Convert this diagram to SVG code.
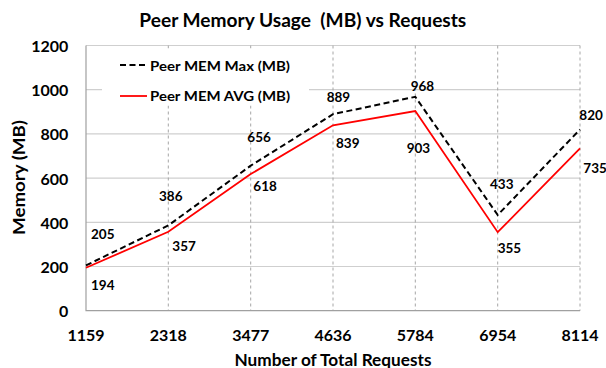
<svg xmlns="http://www.w3.org/2000/svg" width="606" height="368" viewBox="0 0 606 368">
  <style>
    text { font-family: Lato, "Liberation Sans", Arial, sans-serif; font-weight: bold; fill: #000; }
    .title { font-size: 18px; }
    .tick { font-size: 16px; }
    .axis-title { font-size: 17px; }
    .legend { font-size: 13px; }
    .val { font-size: 13.5px; }
    .hgrid { stroke: #cfcfcf; stroke-width: 1.2; }
    .vgrid { stroke: #a6a6a6; stroke-width: 1; stroke-dasharray: 3 3; }
    .axis { stroke: #a0a0a0; stroke-width: 1.2; fill: none; }
    .max { stroke: #000; stroke-width: 2; stroke-dasharray: 6 3.5; fill: none; }
    .avg { stroke: #ff0000; stroke-width: 1.8; fill: none; }
  </style>
  <rect width="606" height="368" fill="#fff"/>

  <text class="title" x="302.8" y="26.5" text-anchor="middle" textLength="327" lengthAdjust="spacingAndGlyphs">Peer Memory Usage&#160; (MB) vs Requests</text>

  <!-- grid -->
  <g id="grid">
    <line class="hgrid" x1="86" y1="266.5" x2="580" y2="266.5"/>
    <line class="hgrid" x1="86" y1="222.3" x2="580" y2="222.3"/>
    <line class="hgrid" x1="86" y1="178.1" x2="580" y2="178.1"/>
    <line class="hgrid" x1="86" y1="133.9" x2="580" y2="133.9"/>
    <line class="hgrid" x1="86" y1="89.7" x2="580" y2="89.7"/>
    <line class="hgrid" x1="86" y1="45.5" x2="580" y2="45.5"/>
    <line class="vgrid" x1="168.3" y1="45.5" x2="168.3" y2="310.7"/>
    <line class="vgrid" x1="250.7" y1="45.5" x2="250.7" y2="310.7"/>
    <line class="vgrid" x1="333" y1="45.5" x2="333" y2="310.7"/>
    <line class="vgrid" x1="415.3" y1="45.5" x2="415.3" y2="310.7"/>
    <line class="vgrid" x1="497.7" y1="45.5" x2="497.7" y2="310.7"/>
    <line class="vgrid" x1="580" y1="45.5" x2="580" y2="310.7"/>
    <path class="axis" d="M86,45.5 V310.7 H580"/>
  </g>

  <!-- axis tick labels -->
  <g id="y-ticks" text-anchor="end">
    <text class="tick" x="68.3" y="317.2">0</text>
    <text class="tick" x="68.3" y="273">200</text>
    <text class="tick" x="68.3" y="228.8">400</text>
    <text class="tick" x="68.3" y="184.6">600</text>
    <text class="tick" x="68.3" y="140.4">800</text>
    <text class="tick" x="68.3" y="96.2">1000</text>
    <text class="tick" x="68.3" y="52">1200</text>
  </g>
  <g id="x-ticks" text-anchor="middle">
    <text class="tick" x="86" y="341">1159</text>
    <text class="tick" x="168.3" y="341">2318</text>
    <text class="tick" x="250.7" y="341">3477</text>
    <text class="tick" x="333" y="341">4636</text>
    <text class="tick" x="415.3" y="341">5784</text>
    <text class="tick" x="497.7" y="341">6954</text>
    <text class="tick" x="580" y="341">8114</text>
  </g>

  <text class="axis-title" x="333" y="365.5" text-anchor="middle" textLength="197" lengthAdjust="spacingAndGlyphs">Number of Total Requests</text>
  <text class="axis-title" transform="translate(24.5,177.5) rotate(-90)" text-anchor="middle" textLength="115" lengthAdjust="spacingAndGlyphs">Memory (MB)</text>

  <!-- data series -->
  <g id="series">
    <polyline id="series-max" class="max" points="86,265.4 168.3,225.4 250.7,165.7 333,114.2 415.3,96.8 497.7,215 580,129.5"/>
    <polyline id="series-avg" class="avg" points="86,267.8 168.3,231.8 250.7,174.1 333,125.3 415.3,111.1 497.7,232.2 580,148.3"/>
  </g>

  <!-- data labels -->
  <g id="labels-max">
    <text class="val" x="91" y="239">205</text>
    <text class="val" x="159" y="200.7">386</text>
    <text class="val" x="247.3" y="142">656</text>
    <text class="val" x="326.7" y="102">889</text>
    <text class="val" x="410.7" y="90.7">968</text>
    <text class="val" x="490" y="188.7">433</text>
    <text class="val" x="579.3" y="120">820</text>
  </g>
  <g id="labels-avg">
    <text class="val" x="91" y="290.4">194</text>
    <text class="val" x="172.3" y="250.7">357</text>
    <text class="val" x="253.3" y="191.4">618</text>
    <text class="val" x="336" y="148">839</text>
    <text class="val" x="406.7" y="153">903</text>
    <text class="val" x="497.7" y="253">355</text>
    <text class="val" x="583.3" y="173">735</text>
  </g>

  <!-- legend -->
  <g id="legend">
    <rect x="102" y="48.5" width="207" height="57" fill="#fff"/>
    <line class="max" x1="120" y1="65" x2="147" y2="65"/>
    <text class="legend" x="150" y="70.7" textLength="140" lengthAdjust="spacingAndGlyphs">Peer MEM Max (MB)</text>
    <line class="avg" x1="120" y1="96" x2="147" y2="96"/>
    <text class="legend" x="150" y="100.7" textLength="140" lengthAdjust="spacingAndGlyphs">Peer MEM AVG (MB)</text>
  </g>
</svg>
